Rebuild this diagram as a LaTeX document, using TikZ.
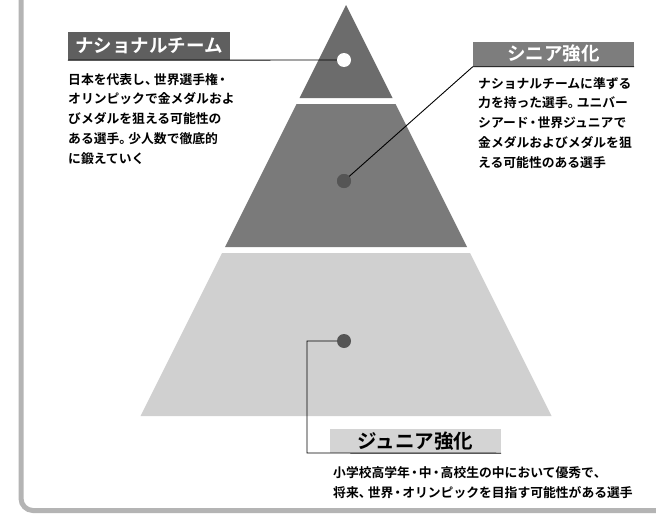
\documentclass[tikz,border=0pt]{standalone}
\usepackage{fontspec}
\newfontfamily\jp{Noto Sans CJK JP}[BoldFont={* Bold}]
\newcommand{\pten}{\makebox[0.7em][l]{、}}
\newcommand{\pmaru}{\makebox[0.7em][l]{。}}
\newcommand{\pnaka}{\makebox[0.7em][c]{・}}
\definecolor{framegray}{RGB}{180,180,180}
\definecolor{topgray}{RGB}{108,108,108}
\definecolor{midgray}{RGB}{122,122,122}
\definecolor{lowgray}{RGB}{208,208,208}
\definecolor{natfill}{RGB}{95,95,95}
\definecolor{senfill}{RGB}{125,125,125}
\definecolor{junfill}{RGB}{212,212,212}
\definecolor{dotgray}{RGB}{85,85,85}
\tikzset{
  titlebox/.style={inner sep=0pt, font=\jp\bfseries\fontsize{18.5}{20}\selectfont},
  bodytext/.style={inner sep=0pt, anchor=north west, align=left, font=\jp\bfseries\fontsize{12.8}{19.8}\selectfont},
  dot/.style={circle, inner sep=0pt, minimum size=14pt},
  conn/.style={draw=black, line width=0.9pt},
}
\begin{document}
\begin{tikzpicture}[x=1pt,y=-1pt]
\useasboundingbox (0,0) rectangle (656,514);
\clip (0,0) rectangle (656,514);
\fill[white] (0,0) rectangle (656,514);
% frame
\draw[framegray, line width=5pt, rounded corners=12pt] (21,-10) -- (21,510.5) -- (670,510.5);
% pyramid
\fill[topgray] (346,5) -- (392.5,98) -- (299.5,98) -- cycle;
\fill[midgray] (296.5,104) -- (395.5,104) -- (467,247) -- (225,247) -- cycle;
\fill[lowgray] (222,253) -- (470,253) -- (551.5,416) -- (140.5,416) -- cycle;
% dots
\node[dot, fill=white] (natdot) at (344,60) {};
\node[dot, fill=dotgray] (sendot) at (344,181) {};
\node[dot, fill=dotgray] (jundot) at (344,341) {};
% title boxes
\node[titlebox, fill=natfill, text=white, minimum width=162pt, minimum height=28pt] (natbox) at (149,46) {ナショナルチーム};
\node[titlebox, fill=senfill, text=white, minimum width=161pt, minimum height=25pt] (senbox) at (553.5,54) {シニア強化};
\node[titlebox, fill=junfill, text=black, minimum width=171pt, minimum height=24pt, font=\jp\bfseries\fontsize{19.5}{20}\selectfont] (junbox) at (415.5,441) {ジュニア強化};
% connectors
\coordinate (jc) at (307,453);
\draw[conn] (natbox.south west) -- (natdot.west);
\draw[conn] (sendot.center) -- (senbox.south west) -- (senbox.south east);
\draw[conn] (jundot.west) -| (jc) -- (junbox.south east);
\node[dot, fill=dotgray] at (sendot) {};
% body texts
\node[bodytext] (nattext) at (68,73) {日本を代表し\pten 世界選手権\pnaka\\オリンピックで金メダルおよ\\びメダルを狙える可能性の\\ある選手\pmaru 少人数で徹底的\\に鍛えていく};
\node[bodytext] (sentext) at (478,77) {ナショナルチームに準ずる\\力を持った選手\pmaru ユニバー\\シアード\pnaka 世界ジュニアで\\金メダルおよびメダルを狙\\える可能性のある選手};
\node[bodytext, font=\jp\bfseries\fontsize{12.8}{20}\selectfont] (juntext) at (333,466.5) {小学校高学年\pnaka 中\pnaka 高校生の中において優秀で\pten\\将来\pten 世界\pnaka オリンピックを目指す可能性がある選手};
\end{tikzpicture}
\end{document}
